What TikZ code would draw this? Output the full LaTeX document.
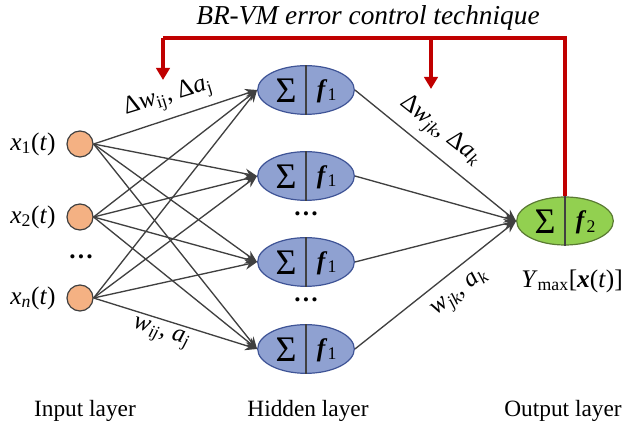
\documentclass[tikz,border=0pt]{standalone}
\usepackage{fontspec}
\setmainfont{Liberation Serif}
\usetikzlibrary{arrows.meta,calc,shapes.geometric}

\definecolor{inputfill}{HTML}{F4B183}
\definecolor{hidfill}{HTML}{8FA1D1}
\definecolor{hidedge}{HTML}{3F5496}
\definecolor{outfill}{HTML}{92D050}
\definecolor{outedge}{HTML}{5A7A33}
\definecolor{ctrlred}{HTML}{C00000}
\definecolor{edgegray}{HTML}{404040}

\tikzset{
  innode/.style={circle, draw=edgegray, fill=inputfill, line width=0.9pt,
    minimum size=19.5pt, inner sep=0pt},
  hidnode/.style={ellipse, draw=hidedge, fill=hidfill, line width=0.9pt,
    minimum width=72.5pt, minimum height=36.5pt, inner sep=0pt},
  outnode/.style={ellipse, draw=outedge, fill=outfill, line width=0.9pt,
    minimum width=72.5pt, minimum height=36pt, inner sep=0pt},
  divider/.style={draw=edgegray, line width=0.8pt},
  edge/.style={draw=edgegray, line width=1pt,
    -{Stealth[length=9pt,width=7.5pt]}},
  ctrl/.style={draw=ctrlred, line width=2.3pt},
  ctrlarrow/.style={ctrl, -{Triangle[length=9pt,width=10pt]}},
  txt/.style={font=\fontsize{19}{21}\selectfont, inner sep=0pt},
  sigma/.style={font=\fontsize{27}{29}\selectfont, inner sep=0pt},
  sym/.style={font=\fontsize{19}{21}\selectfont, inner sep=0pt},
  lbl/.style={font=\fontsize{19}{21}\selectfont, inner sep=0pt},
  layercap/.style={font=\fontsize{17.5}{20}\selectfont, inner sep=0pt},
  dotstxt/.style={font=\fontsize{19}{21}\selectfont\bfseries, inner sep=0pt},
}

\begin{document}
\begin{tikzpicture}[x=0.75pt, y=-0.75pt]
  \useasboundingbox (0,0) rectangle (622,427);

  % input layer
  \node[innode] (x1) at (80,144) {};
  \node[innode] (x2) at (80,217) {};
  \node[innode] (xn) at (80,298) {};
  \node[txt] (lx1) at (33,144) {\textit{x}\textsubscript{1}(\textit{t})};
  \node[txt] (lx2) at (33,217) {\textit{x}\textsubscript{2}(\textit{t})};
  \node[txt] (lxn) at (33,298) {\textit{x}\textsubscript{\textit{n}}(\textit{t})};
  \node[dotstxt] (idots) at (81,257) {…};

  % hidden layer
  \foreach \n/\y in {1/90,2/176,3/262,4/349}{
    \node[hidnode] (h\n) at (306,\y) {};
    \draw[divider] (h\n.north) -- (h\n.south);
    \node[sigma] (s\n) at ($(h\n.center)+(-20,1)$) {Σ};
    \node[sym] (f\n) at ($(h\n.center)+(21,1)$) {\textbf{\textit{f}}\textsubscript{\normalfont 1}};
  }
  \node[dotstxt] (hdots1) at (306,214) {…};
  \node[dotstxt] (hdots2) at (306,300) {…};

  % output layer
  \node[outnode] (o) at (565,221) {};
  \draw[divider] (o.north) -- (o.south);
  \node[sigma] (so) at ($(o.center)+(-20,1)$) {Σ};
  \node[sym] (fo) at ($(o.center)+(21,1)$) {\textbf{\textit{f}}\textsubscript{\normalfont 2}};
  \node[txt] (ylab) at (572,281) {\textit{Y}\textsubscript{max}[\textbf{\textit{x}}(\textit{t})]};

  % connections
  \foreach \i in {x1,x2,xn}{
    \foreach \n in {1,2,3,4}{
      \draw[edge] (\i.east) -- (h\n.west);
    }
  }
  \foreach \n in {1,2,3,4}{
    \draw[edge] (h\n.east) -- (o.west);
  }

  % weight labels
  \node[lbl, rotate=17] (dwij) at (168,97) {Δ\textit{w}\textsubscript{ij}, Δ\textit{a}\textsubscript{j}};
  \node[lbl, rotate=-17] (wij) at (161,334) {\textit{w}\textsubscript{\textit{ij}}, \textit{a}\textsubscript{\textit{j}}};
  \node[lbl, rotate=-38] (dwjk) at (440,131) {Δ\textit{w}\textsubscript{\textit{jk}}, Δ\textit{a}\textsubscript{\textit{k}}};
  \node[lbl, rotate=38] (wjk) at (461,294) {\textit{w}\textsubscript{\textit{jk}}, \textit{a}\textsubscript{\textit{k}}};

  % error control feedback
  \coordinate (ctop) at (565,38);
  \coordinate (cleft) at (163,38);
  \coordinate (cmid) at (431,38);
  \coordinate (aleft) at (163,80);
  \coordinate (amid) at (431,89);
  \draw[ctrl] (o.north) -- (ctop) -- (cleft);
  \draw[ctrlarrow] (cleft) -- (aleft);
  \draw[ctrlarrow] (cmid) -- (amid);
  \node[lbl, font=\fontsize{20.5}{22}\selectfont] (title) at (368,18) {\textit{BR-VM error control technique}};

  % layer captions
  \node[layercap] (cin) at (85,411) {Input layer};
  \node[layercap] (chid) at (308,411) {Hidden layer};
  \node[layercap] (cout) at (563,411) {Output layer};
\end{tikzpicture}
\end{document}
